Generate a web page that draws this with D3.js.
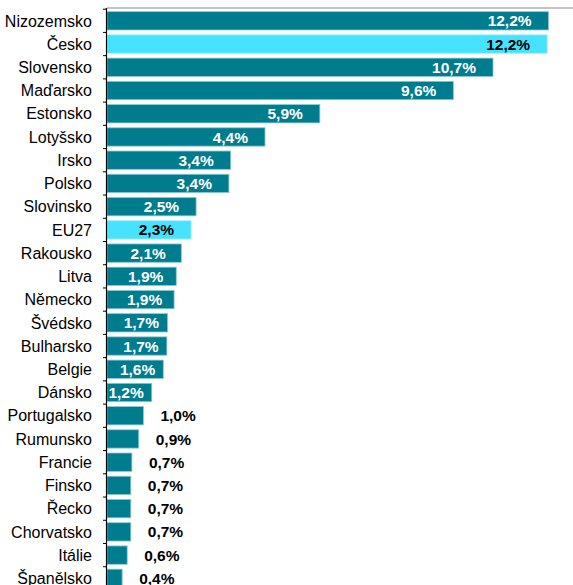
<!DOCTYPE html>
<html>
<head>
<meta charset="utf-8">
<script src="https://cdn.jsdelivr.net/npm/d3@7"></script>
<style>
  body { margin: 0; background: #fff; }
</style>
</head>
<body>
<script>
// categories and values (%)
let countries = ["Nizozemsko", "Česko", "Slovensko", "Maďarsko", "Estonsko", "Lotyšsko", "Irsko", "Polsko",
  "Slovinsko", "EU27", "Rakousko", "Litva", "Německo", "Švédsko", "Bulharsko", "Belgie", "Dánsko",
  "Portugalsko", "Rumunsko", "Francie", "Finsko", "Řecko", "Chorvatsko", "Itálie", "Španělsko"];
let shares = [12.24, 12.2, 10.7, 9.6, 5.9, 4.38, 3.43, 3.38,
  2.47, 2.33, 2.06, 1.92, 1.86, 1.68, 1.66, 1.56, 1.24,
  1.01, 0.88, 0.69, 0.66, 0.66, 0.66, 0.56, 0.42];
let highlighted = ["Česko", "EU27"];

let width = 573;
let height = 585;

let svg = d3.select("body").append("svg")
  .attr("width", width).attr("height", height);

let data = countries.map(function(c, i) { return {name: c, value: shares[i]}; });

let x0 = 107;
let xScale = d3.scaleLinear().domain([0, 13]).range([x0, x0 + 469]);
let yScale = d3.scaleBand().domain(countries).range([9.2, 9.2 + 25 * 23.23])
  .paddingInner(0.21).paddingOuter(0.105);
let step = yScale.step();

let fmt = function(v) { return v.toFixed(1).replace(".", ",") + "%"; };

// top border of plot area
svg.append("line")
  .attr("x1", x0).attr("x2", width)
  .attr("y1", 8).attr("y2", 8)
  .style("stroke", "#c4c4c4").style("stroke-width", 2);

// bars
svg.selectAll("rect.bar")
  .data(data)
  .enter()
  .append("rect")
    .attr("class", "bar")
    .attr("x", xScale(0))
    .attr("y", function(d) { return yScale(d.name); })
    .attr("height", yScale.bandwidth())
    .attr("width", function(d) { return xScale(d.value) - xScale(0); })
    .style("fill", function(d) { return highlighted.includes(d.name) ? "#47E2FF" : "#007C8F"; })
    .style("stroke", function(d) { return highlighted.includes(d.name) ? "#9cf0ff" : "#8ccbd4"; })
    .style("stroke-width", 0.8);

// category axis
svg.append("line")
  .attr("x1", x0 - 0.5).attr("x2", x0 - 0.5)
  .attr("y1", 8).attr("y2", height)
  .style("stroke", "#000").style("stroke-width", 1.2);

svg.selectAll("line.tick")
  .data(d3.range(countries.length + 1))
  .enter()
  .append("line")
    .attr("class", "tick")
    .attr("x1", x0 - 4).attr("x2", x0)
    .attr("y1", function(i) { return 9.2 + i * step; })
    .attr("y2", function(i) { return 9.2 + i * step; })
    .style("stroke", "#000").style("stroke-width", 1);

svg.selectAll("text.cat")
  .data(data)
  .enter()
  .append("text")
    .attr("class", "cat")
    .attr("x", 92)
    .attr("y", function(d) { return yScale(d.name) + yScale.bandwidth() / 2; })
    .attr("dy", "0.36em")
    .attr("text-anchor", "end")
    .style("font-family", "Liberation Sans, Arial, sans-serif")
    .style("font-size", "16px")
    .style("fill", "#000")
    .text(function(d) { return d.name; });

// value labels
let labels = svg.selectAll("text.val")
  .data(data)
  .enter()
  .append("text")
    .attr("class", "val")
    .attr("y", function(d) { return yScale(d.name) + yScale.bandwidth() / 2; })
    .attr("dy", "0.36em")
    .attr("text-anchor", "middle")
    .style("font-family", "Liberation Sans, Arial, sans-serif")
    .style("font-size", "15.5px")
    .style("font-weight", "bold")
    .style("fill", function(d) {
      if (highlighted.includes(d.name)) return "#000";
      return d.value >= 1.2 ? "#fff" : "#000";
    })
    .text(function(d) { return fmt(d.value); });

labels.attr("x", function(d) {
  let tw = this.getComputedTextLength();
  let end = xScale(d.value);
  if (d.value < 1.2) {
    return end + 17 + tw / 2;
  }
  let c = Math.max(end - 17 - tw / 2, (x0 + end) / 2 + 4);
  return Math.min(c, end - 8 - tw / 2);
});
</script>
</body>
</html>
